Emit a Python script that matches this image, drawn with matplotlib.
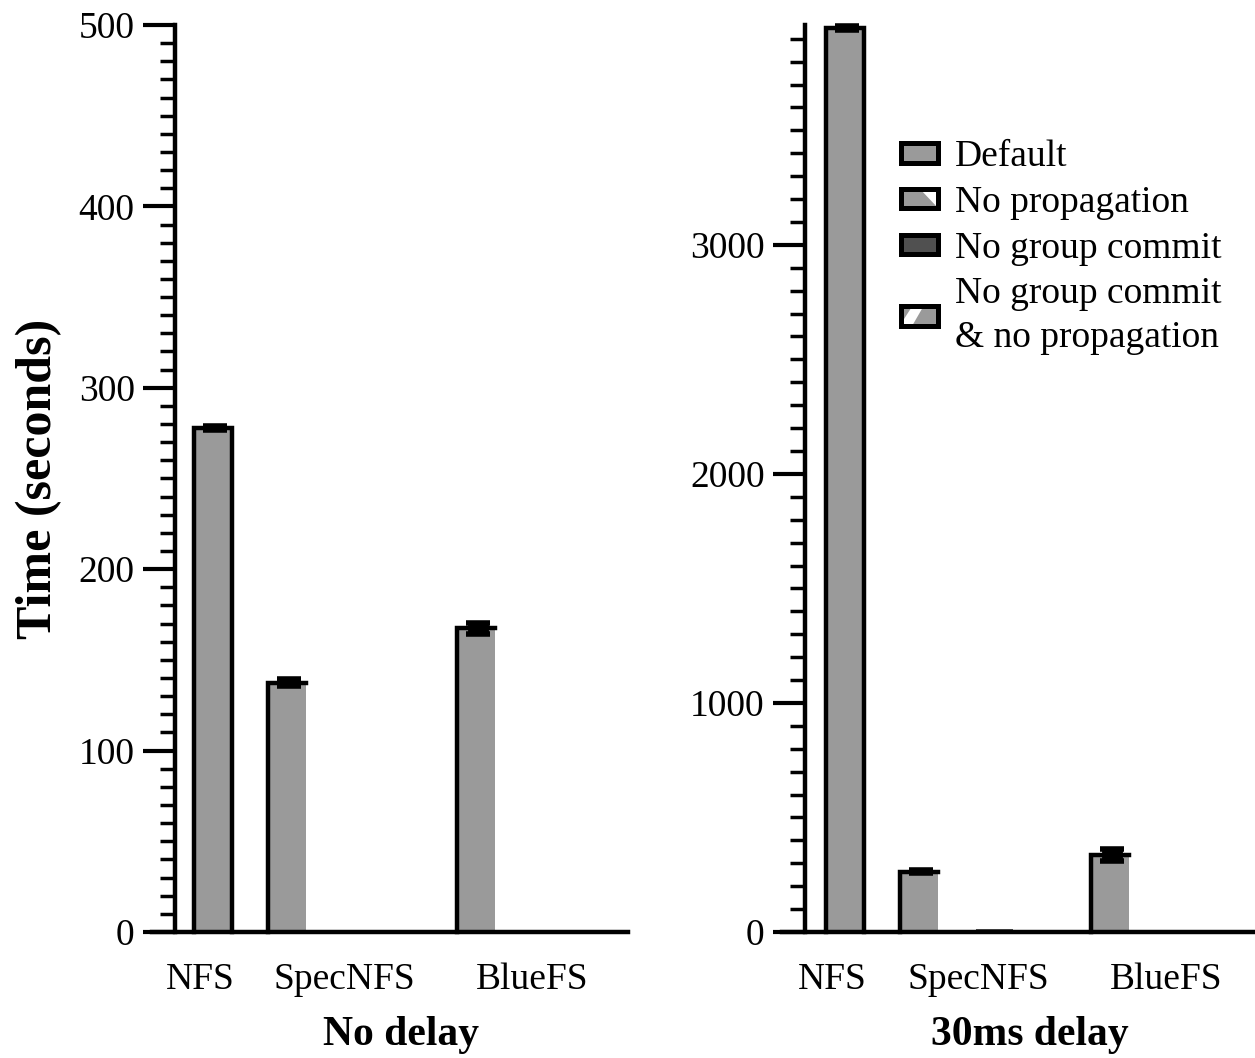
import matplotlib
matplotlib.use("Agg")
import matplotlib.pyplot as plt
from matplotlib.patches import Patch, Rectangle, Polygon
from matplotlib.legend_handler import HandlerBase
from matplotlib.ticker import MultipleLocator

plt.rcParams['font.family'] = ['Liberation Serif', 'DejaVu Serif']

systems = ["NFS", "SpecNFS", "BlueFS"]
series = ["Default", "No propagation", "No group commit",
          "No group commit\n& no propagation"]

# Times in seconds; NFS has only the default configuration
nodelay_default = [278, 137.5, 167.5]
nodelay_default_err = [1, 2, 3]
nodelay_noprop = [None, 1.0, 0.5]
nodelay_nogc = [None, 1.2, 0.5]
nodelay_both = [None, 1.0, 0.5]

delay_default = [3948, 263, 337]
delay_default_err = [8, 6, 25]
delay_noprop = [None, 10, 8]
delay_nogc = [None, 12, 9]
delay_both = [None, 10, 8]

GREY = "#9a9a9a"
DARK = "#505050"

fig = plt.figure(figsize=(12.55, 10.58), dpi=100)
axL = fig.add_axes([0.1394, 0.1191, 0.361, 0.8573])
axR = fig.add_axes([0.6414, 0.1191, 0.3586, 0.8573])

W = 1.0


def draw_panel(ax, starts, labels_at, default, err, noprop, nogc, both,
               ymax, major, minor, xlabel):
    for g, sys in enumerate(systems):
        x0 = starts[g]
        b = ax.bar(x0, default[g], width=W, align='edge', color=GREY,
                   linewidth=0, zorder=2)[0]
        bx, bw, bh = b.get_x(), b.get_width(), b.get_height()
        if noprop[g] is None:
            ax.plot([bx, bx, bx + bw, bx + bw], [0, bh, bh, 0], color='black',
                    lw=3.2, solid_joinstyle='miter', zorder=3, clip_on=False)
        else:
            ax.plot([bx, bx, bx + bw], [0, bh, bh], color='black',
                    lw=3.2, solid_joinstyle='miter', zorder=3, clip_on=False)
        ax.errorbar(bx + bw * 0.55, bh, yerr=err[g], fmt='none', ecolor='black',
                    elinewidth=15, capsize=8.5, capthick=4, zorder=4,
                    clip_on=False)
        extras = [(noprop[g], GREY), (nogc[g], DARK), (both[g], GREY)]
        for k, (v, c) in enumerate(extras):
            if v is None:
                continue
            ax.bar(x0 + (k + 1) * W, v, width=W, align='edge', color=c,
                   linewidth=0, zorder=2)
    ax.set_xlim(0, 11.95)
    ax.set_ylim(0, ymax)
    ax.yaxis.set_major_locator(MultipleLocator(major))
    ax.yaxis.set_minor_locator(MultipleLocator(minor))
    ax.set_xticks(labels_at)
    ax.set_xticklabels(systems, fontsize=27)
    ax.tick_params(axis='x', length=0, pad=22)
    ax.tick_params(axis='y', which='major', length=23, width=3, labelsize=27,
                   direction='out', pad=6)
    ax.tick_params(axis='y', which='minor', length=11, width=2.5,
                   direction='out')
    for s in ['top', 'right']:
        ax.spines[s].set_visible(False)
    for s in ['left', 'bottom']:
        ax.spines[s].set_linewidth(3.2)
    ax.spines['bottom'].set_bounds(-0.6, 11.95)
    ax.set_xlabel(xlabel, fontsize=30, fontweight='bold', labelpad=14)


draw_panel(axL, [0.5, 2.45, 7.45], [0.68, 4.47, 9.42],
           nodelay_default, nodelay_default_err, nodelay_noprop,
           nodelay_nogc, nodelay_both, 500, 100, 10, "No delay")
draw_panel(axR, [0.56, 2.53, 7.6], [0.72, 4.6, 9.6],
           delay_default, delay_default_err, delay_noprop,
           delay_nogc, delay_both, 3960, 1000, 100, "30ms delay")

axL.set_ylabel("Time (seconds)", fontsize=36, fontweight='bold', labelpad=12)


class SwatchHandler(HandlerBase):
    """Legend swatch: a filled box, optional white cut-out, black frame."""

    def __init__(self, face, cutout=None):
        super().__init__()
        self.face = face
        self.cutout = cutout

    def create_artists(self, legend, orig_handle, xdescent, ydescent,
                       width, height, fontsize, trans):
        x0, y0 = -xdescent, -ydescent
        arts = [Rectangle((x0, y0), width, height, facecolor=self.face,
                          edgecolor='none', transform=trans)]
        if self.cutout is not None:
            pts = [(x0 + px * width, y0 + py * height) for px, py in self.cutout]
            arts.append(Polygon(pts, closed=True, facecolor='white',
                                edgecolor='none', transform=trans))
        arts.append(Rectangle((x0, y0), width, height, fill=False,
                              edgecolor='black', linewidth=3.6,
                              joinstyle='miter', transform=trans))
        return arts


handles = [Patch(label=s) for s in series]
handler_map = {
    handles[0]: SwatchHandler(GREY),
    handles[1]: SwatchHandler(GREY, [(0.5, 1), (1, 1), (1, 0.0)]),
    handles[2]: SwatchHandler(DARK),
    handles[3]: SwatchHandler(GREY, [(0, 0), (0.3, 0), (0.6, 1), (0.3, 1),
                                     (0, 0.1)]),
}
leg = axR.legend(handles, series, loc='upper left', bbox_to_anchor=(0.18, 0.89),
                 frameon=False, fontsize=27, handlelength=1.0, handleheight=0.42,
                 handletextpad=0.45, labelspacing=0.3, borderaxespad=0,
                 handler_map=handler_map)
leg.get_texts()[3].set_linespacing(1.35)

fig.savefig("out.png", dpi=100)
